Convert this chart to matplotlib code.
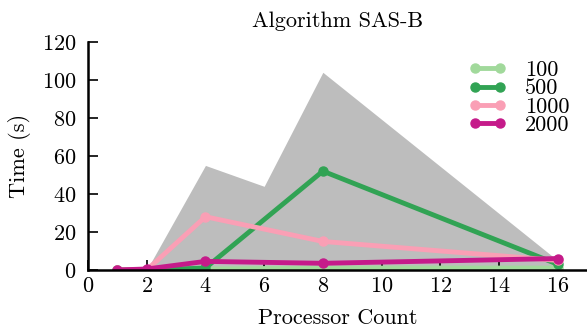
import matplotlib
matplotlib.use('Agg')
import matplotlib.pyplot as plt

plt.rcParams['font.family'] = 'serif'
plt.rcParams['font.serif'] = ['cmr10']
plt.rcParams['axes.formatter.use_mathtext'] = True

# processor counts
procs = [1, 2, 4, 8, 16]
t_100 = [0, 0, 0.5, 1, 1]
t_500 = [0, 0, 1, 52, 3]
t_1000 = [0, 0, 28, 15, 5]
t_2000 = [0, 0.5, 4.5, 3.5, 6]

# grey envelope
env_x = [1, 2, 4, 6, 8, 16]
env_top = [0, 0, 55, 44, 104, 5]

series = [('100', t_100, '#a1d99b'), ('500', t_500, '#31a354'),
          ('1000', t_1000, '#fa9fb5'), ('2000', t_2000, '#c51b8a')]

fig = plt.figure(figsize=(5.87, 3.30), dpi=100)
ax = fig.add_axes([0.15, 0.182, 0.85, 0.691])

ax.fill_between(env_x, 0, env_top, color='#bdbdbd', lw=0)
for name, vals, col in series:
    ax.plot(procs, vals, color=col, lw=3.5, marker='o', ms=6.5, label=name)

ax.set_xlim(0, 17)
ax.set_ylim(0, 120)
ax.set_xticks(range(0, 17, 2))
ax.set_yticks(range(0, 121, 20))
for s in ['top', 'right']:
    ax.spines[s].set_visible(False)
for s in ['left', 'bottom']:
    ax.spines[s].set_linewidth(1.8)
ax.spines['left'].set_bounds(0, 120)
ax.tick_params(direction='in', width=1.2, length=7, labelsize=16)
ax.tick_params(axis='x', pad=5)
ax.tick_params(axis='y', pad=8.5)

ax.set_title('Algorithm SAS-B', fontsize=16, pad=11)
ax.set_xlabel('Processor Count', fontsize=16, labelpad=9)
ax.set_ylabel('Time (s)', fontsize=16, labelpad=7.5)
ax.legend(loc='upper right', frameon=False, fontsize=16, numpoints=2,
          handlelength=1.75, labelspacing=-0.05, handletextpad=0.8,
          borderaxespad=0, bbox_to_anchor=(0.982, 0.958))

fig.savefig('out.png', dpi=100)
